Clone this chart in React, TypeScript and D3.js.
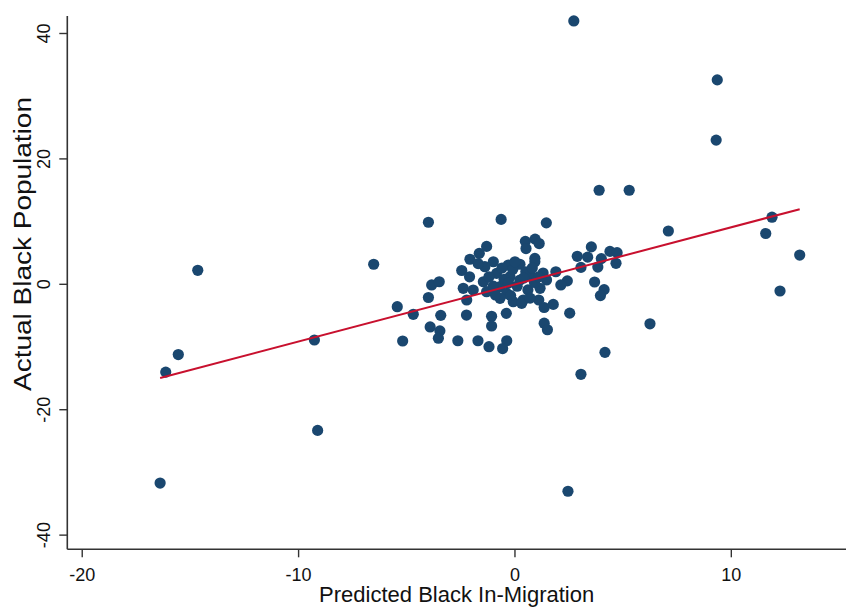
import React from 'react';
import * as d3 from 'd3';

// Predicted black in-migration (x) and actual black population change (y), one entry per city
const predicted = [
  -16.4, -16.14, -15.56, -14.66, -9.27, -9.12, -6.53, -5.44, -5.19, -4.7,
  -4.0, -4.0, -3.85, -3.5, -3.43, -3.92, -3.47, -3.54, -2.64, -2.46,
  -2.08, -1.65, -1.31, -1.0, -1.39, -2.1, -2.39, -1.93, -1.46, -0.85,
  -0.23, -0.69, 0.23, 0.69, -0.38, 0.38, -0.08, -0.69, -1.31, -2.23,
  -2.24, -1.08, -1.08, -0.38, -0.57, -1.71, -1.2, -0.4, -0.64, 1.45,
  0.48, 0.93, 1.12, 0.51, 0.92, -0.31, 0.23, 0.92, 1.89, 1.46,
  1.16, 1.1, 1.35, 1.77, 0.31, 1.35, 1.5, 2.42, 2.12, 2.53,
  2.88, 3.53, 3.36, 3.05, 3.99, 3.83, 4.39, 4.72, 4.67, 3.68,
  4.12, 3.95, 6.24, 4.16, 3.05, 2.45, 2.72, 9.35, 9.3, 3.89,
  5.28, 7.09, 11.88, 11.59, 13.16, 12.25,
  -0.1, 0.5, -0.5, 0.1, 0.6, -0.2, 0.9, -1.0, 0.4, -0.6,
  0.8, -1.7, -1.2, 0.0, 1.3, -0.9, 0.7, 1.1, -0.3,
];
const actual = [
  -31.7, -14.0, -11.2, 2.23, -8.88, -23.3, 3.2, -3.57, -9.04, -4.78,
  9.9, -2.1, -0.1, 0.41, -4.95, -6.8, -7.42, -8.6, -9.0, 2.2,
  4.0, 4.94, 6.05, 3.6, 2.81, 1.2, -0.64, -0.91, 0.41, 1.75,
  1.21, -0.38, 0.69, 1.48, -1.44, -2.5, -2.77, -2.23, -1.18, -2.5,
  -4.9, -5.1, -6.65, -9.0, -10.25, -9.0, -9.95, -4.63, 10.35, 9.8,
  6.85, 7.2, 6.5, 5.7, 4.14, 3.08, 3.2, 3.6, 2.0, 0.69,
  -0.64, -2.5, -3.7, -3.2, -3.04, -6.2, -7.25, 0.55, -0.1, -4.6,
  4.47, 5.97, 4.33, 2.7, 4.1, 2.75, 5.25, 5.05, 3.35, 0.37,
  -0.85, -1.8, -6.3, -10.85, -14.35, -33.0, 42.0, 32.6, 23.0, 15.0,
  15.0, 8.5, 10.7, 8.1, 4.67, -1.07,
  2.4, 2.0, 0.8, -0.3, -0.9, -1.8, 0.3, -0.3, 1.0, 2.6,
  2.6, 3.3, 1.2, 3.6, 1.8, -1.7, -2.2, 1.2, 0.2,
];

const xTicks = [-20, -10, 0, 10];
const yTicks = [-40, -20, 0, 20, 40];
const xTitle = 'Predicted Black In-Migration';
const yTitle = 'Actual Black Population';

const FONT = '"Liberation Sans", Arial, sans-serif';
const DOT = '#1a476f';
const FIT = '#c8102e';
const AXIS = '#333333';

export default function App() {
  const W = 846;
  const H = 610;
  const left = 67.3;
  const right = 846;
  const top = 16;
  const bottom = 549.3;

  const x = d3.scaleLinear().domain([-20.69, 15.3]).range([left, right]);
  const y = d3.scaleLinear().domain([-42.26, 42.79]).range([bottom, top]);

  // Ordinary least squares fit of actual on predicted
  const mx = d3.mean(predicted) as number;
  const my = d3.mean(actual) as number;
  let sxy = 0;
  let sxx = 0;
  predicted.forEach((p, i) => {
    sxy += (p - mx) * (actual[i] - my);
    sxx += (p - mx) * (p - mx);
  });
  const slope = sxy / sxx;
  const intercept = my - slope * mx;
  const [x0, x1] = d3.extent(predicted) as [number, number];
  const fitPath = d3.line<number>()
    .x((v) => x(v))
    .y((v) => y(intercept + slope * v))([x0, x1]) as string;

  const points = predicted.map((p, i) => ({ p, a: actual[i] }));

  return (
    <svg
      width={W}
      height={H}
      style={{ position: 'absolute', left: 0, top: 0, background: '#fff' }}
      fontFamily={FONT}
    >
      <rect x={0} y={0} width={W} height={H} fill="#fff" />

      {points.map((d, i) => (
        <circle key={i} cx={x(d.p)} cy={y(d.a)} r={5.6} fill={DOT} />
      ))}

      <path d={fitPath} fill="none" stroke={FIT} strokeWidth={2} />

      {/* y axis */}
      <line x1={left} x2={left} y1={top} y2={bottom} stroke={AXIS} strokeWidth={1.6} />
      {yTicks.map((t) => (
        <g key={t}>
          <line x1={left - 8} x2={left} y1={y(t)} y2={y(t)} stroke={AXIS} strokeWidth={1.4} />
          <text
            transform={`translate(${left - 17},${y(t)}) rotate(-90)`}
            textAnchor="middle"
            fontSize={18}
            fill="#111"
          >
            {t}
          </text>
        </g>
      ))}

      {/* x axis */}
      <line x1={left} x2={right} y1={bottom} y2={bottom} stroke={AXIS} strokeWidth={1.6} />
      {xTicks.map((t) => (
        <g key={t}>
          <line x1={x(t)} x2={x(t)} y1={bottom} y2={bottom + 8} stroke={AXIS} strokeWidth={1.4} />
          <text x={x(t)} y={bottom + 32} textAnchor="middle" fontSize={18} fill="#111">
            {t}
          </text>
        </g>
      ))}

      <text x={(left + right) / 2} y={602} textAnchor="middle" fontSize={22} fill="#111">
        {xTitle}
      </text>
      <text
        transform={`translate(31,${244}) rotate(-90)`}
        textAnchor="middle"
        fontSize={23}
        textLength={294}
        lengthAdjust="spacingAndGlyphs"
        fill="#111"
      >
        {yTitle}
      </text>
    </svg>
  );
}
